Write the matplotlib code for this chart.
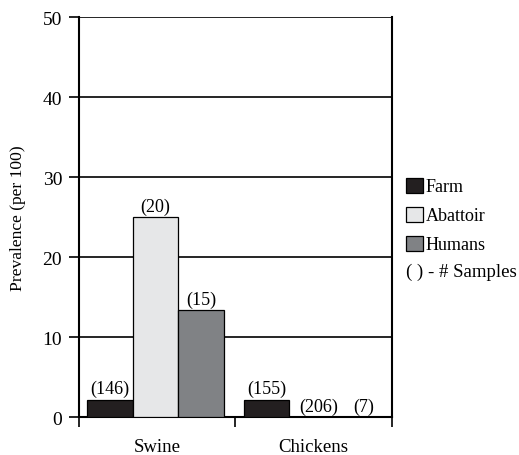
import numpy as np
from matplotlib import pyplot as plt
from matplotlib.patches import Patch

plt.rcParams['font.family'] = ['Liberation Serif', 'DejaVu Serif']

categories = ['Swine', 'Chickens']
series = ['Farm', 'Abattoir', 'Humans']
farm = [2.2, 2.2]
abattoir = [25.0, 0.0]
humans = [13.4, 0.0]
samples = [[146, 155], [20, 206], [15, 7]]
colors = ['#231f20', '#e6e7e8', '#808285']

fig = plt.figure(figsize=(5.19, 4.56), dpi=100)
ax = fig.add_axes([0.152, 0.083, 0.603, 0.877])

x = np.arange(len(categories))
width = 0.29
values = [farm, abattoir, humans]
for i, (vals, c) in enumerate(zip(values, colors)):
    pos = x + (i - 1) * width - 0.01
    ax.bar(pos, vals, width, color=c, edgecolor='black', linewidth=0.9, zorder=3)
    for j, (p, v, n) in enumerate(zip(pos, vals, samples[i])):
        dx = 0.04 if (j == 1 and i > 0) else 0
        ax.text(p + dx, v + 0.3, f'({n})', ha='center', va='bottom', fontsize=13, zorder=4)

ax.set_xlim(-0.5, 1.5)
ax.set_ylim(0, 50)
ax.set_yticks(np.arange(0, 51, 10))
ax.yaxis.grid(True, color='black', linewidth=1.2)
ax.set_axisbelow(True)
ax.set_xticks([-0.5, 0.5, 1.5])
ax.set_xticklabels([])
ax.set_xticks(x, minor=True)
ax.set_xticklabels(categories, minor=True)
ax.tick_params(axis='x', which='minor', length=0, pad=15, labelsize=13.5)
ax.tick_params(axis='x', which='major', length=7, width=1.2, direction='out')
ax.tick_params(axis='y', length=7, width=1.2, labelsize=14, pad=5)
for s in ['left', 'right', 'bottom']:
    ax.spines[s].set_linewidth(1.5)
ax.spines['top'].set_visible(False)
ax.set_ylabel('Prevalence (per 100)', fontsize=12.6, labelpad=12)

handles = [Patch(facecolor=c, edgecolor='black', linewidth=0.9) for c in colors]
fig.legend(handles, series, loc='upper left', bbox_to_anchor=(0.783, 0.608),
           frameon=False, fontsize=13, handlelength=0.9, handleheight=0.9,
           handletextpad=0.15, labelspacing=0.62, borderpad=0, borderaxespad=0)
fig.text(0.783, 0.403, '( ) - # Samples', fontsize=13.5, va='center')

fig.savefig('out.png', dpi=100)
